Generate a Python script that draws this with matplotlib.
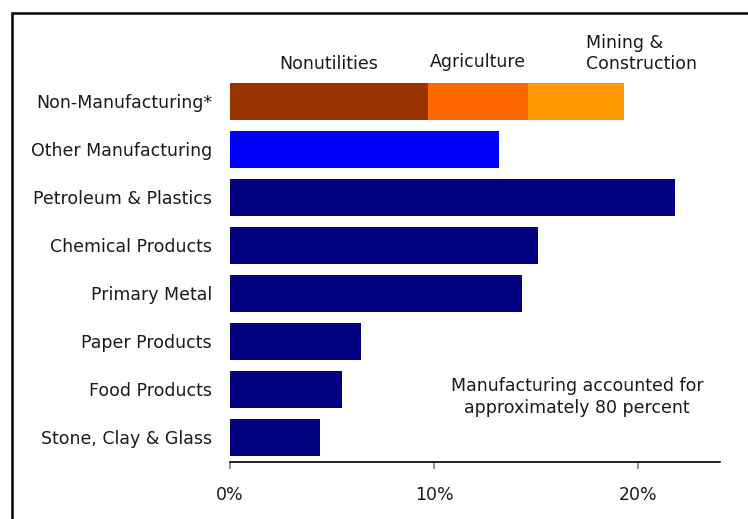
import matplotlib
matplotlib.use("Agg")
import matplotlib.pyplot as plt
from matplotlib.patches import Rectangle
from matplotlib.ticker import FuncFormatter

plt.rcParams["font.family"] = ["DejaVu Sans"]

categories = ["Non-Manufacturing*", "Other Manufacturing", "Petroleum & Plastics",
              "Chemical Products", "Primary Metal", "Paper Products",
              "Food Products", "Stone, Clay & Glass"]
# manufacturing shares (percent); first row is the stacked non-manufacturing bar
manuf_values = [13.2, 21.8, 15.1, 14.3, 6.4, 5.5, 4.4]
manuf_colors = ["#0000FF"] + ["#000080"] * 6

nonmanuf_parts = ["Nonutilities", "Agriculture", "Mining &\nConstruction"]
nonmanuf_values = [9.7, 4.9, 4.7]
nonmanuf_colors = ["#993300", "#FF6600", "#FF9900"]

xticks = [0, 10, 20]
note = "Manufacturing accounted for\napproximately 80 percent"

fig = plt.figure(figsize=(7.48, 5.19), dpi=100)
ax = fig.add_axes([230 / 748, 1 - 462 / 519, 490 / 748, (462 - 77) / 519])

bar_h = 0.77
ypos = list(range(len(categories)))

# stacked non-manufacturing bar
left = 0
label_pos = []
for val, col in zip(nonmanuf_values, nonmanuf_colors):
    ax.barh(0, val, left=left, height=bar_h, color=col, linewidth=0)
    label_pos.append(left + val / 2)
    left += val

ax.barh(ypos[1:], manuf_values, height=bar_h, color=manuf_colors, linewidth=0)

ax.set_xlim(0, 24)
ax.set_ylim(7.515, -0.5)
ax.set_yticks(ypos)
ax.set_yticklabels(categories)
ax.set_xticks(xticks)
ax.xaxis.set_major_formatter(FuncFormatter(lambda v, p: f"{v:.0f}%"))

for s in ["top", "right", "left"]:
    ax.spines[s].set_visible(False)
ax.spines["bottom"].set_linewidth(1.2)
ax.tick_params(axis="y", length=0, pad=13, labelsize=12.5, labelcolor="#1a1a1a")
ax.tick_params(axis="x", length=5, width=1.2, color="#808080", pad=12,
               labelsize=12.5, labelcolor="#1a1a1a")

txt = dict(fontsize=12.5, color="#1a1a1a", clip_on=False)
ax.text(label_pos[0], -0.78, nonmanuf_parts[0], ha="center", va="center", **txt)
ax.text(label_pos[1], -0.82, nonmanuf_parts[1], ha="center", va="center", **txt)
ax.text(17.46, -0.99, nonmanuf_parts[2], ha="left", va="center",
        linespacing=1.25, **txt)
ax.text(17.0, 6.16, note, ha="center", va="center", linespacing=1.25, **txt)

# outer frame (cut off at right and bottom)
fig.add_artist(Rectangle((12 / 748, -0.5), 2.0, 1.5 - 13 / 519,
                         transform=fig.transFigure, fill=False,
                         edgecolor="black", linewidth=1.8))

fig.savefig("out.png", dpi=100)
